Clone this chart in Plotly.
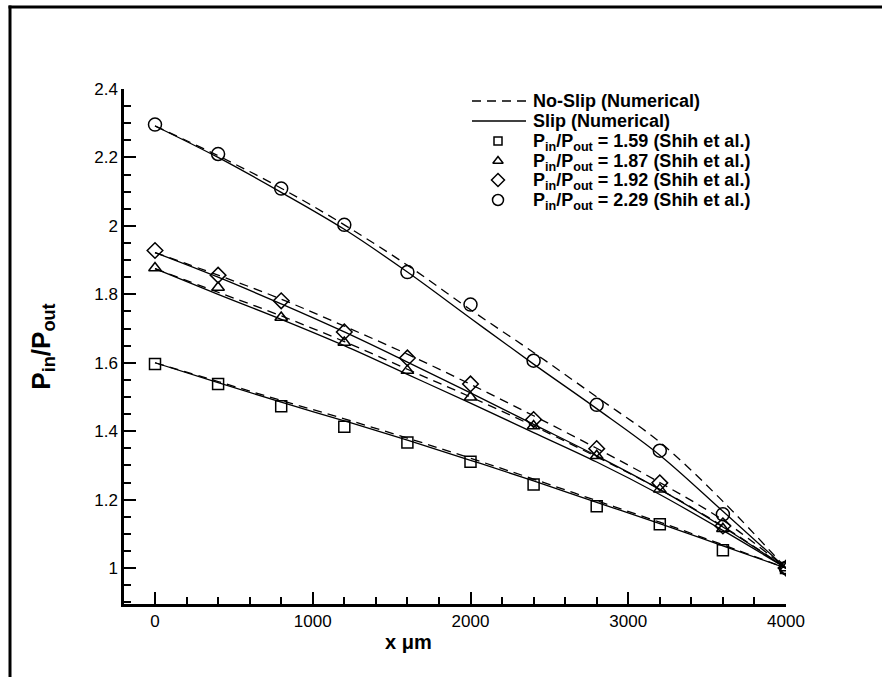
import plotly.graph_objects as go

# ---------------- data ----------------
x_pos = [0, 400, 800, 1200, 1600, 2000, 2400, 2800, 3200, 3600, 4000]

# Experimental data (Shih et al.)
exp_159 = [1.596, 1.538, 1.473, 1.413, 1.367, 1.311, 1.244, 1.181, 1.128, 1.052, 1.0]
exp_187 = [1.877, 1.820, 1.732, 1.659, 1.577, 1.499, 1.415, 1.328, 1.230, 1.115, 1.0]
exp_192 = [1.928, 1.856, 1.781, 1.690, 1.614, 1.538, 1.434, 1.349, 1.249, 1.123, 1.0]
exp_229 = [2.296, 2.210, 2.109, 2.003, 1.865, 1.770, 1.606, 1.477, 1.343, 1.157, 1.0]

# Slip (numerical)
slip_159 = [1.600, 1.542, 1.485, 1.430, 1.374, 1.315, 1.255, 1.192, 1.130, 1.065, 1.0]
slip_187 = [1.875, 1.800, 1.727, 1.650, 1.566, 1.482, 1.396, 1.310, 1.215, 1.110, 1.0]
slip_192 = [1.922, 1.850, 1.772, 1.690, 1.602, 1.512, 1.420, 1.328, 1.230, 1.120, 1.0]
slip_229 = [2.292, 2.200, 2.098, 1.990, 1.865, 1.730, 1.596, 1.466, 1.330, 1.166, 1.0]

# No-slip (numerical)
noslip_159 = [1.600, 1.545, 1.490, 1.436, 1.380, 1.321, 1.260, 1.197, 1.134, 1.068, 1.0]
noslip_187 = [1.875, 1.806, 1.737, 1.662, 1.581, 1.500, 1.415, 1.325, 1.230, 1.122, 1.0]
noslip_192 = [1.922, 1.856, 1.786, 1.707, 1.625, 1.537, 1.445, 1.350, 1.250, 1.140, 1.0]
noslip_229 = [2.292, 2.205, 2.110, 2.003, 1.885, 1.755, 1.630, 1.500, 1.368, 1.195, 1.0]

legend_labels = [
    "No-Slip (Numerical)",
    "Slip (Numerical)",
    "P<sub>in</sub>/P<sub>out</sub> = 1.59 (Shih et al.)",
    "P<sub>in</sub>/P<sub>out</sub> = 1.87 (Shih et al.)",
    "P<sub>in</sub>/P<sub>out</sub> = 1.92 (Shih et al.)",
    "P<sub>in</sub>/P<sub>out</sub> = 2.29 (Shih et al.)",
]
x_ticks = [0, 1000, 2000, 3000, 4000]
y_ticks = [1, 1.2, 1.4, 1.6, 1.8, 2, 2.2, 2.4]
x_title = "x μm"
y_title = "P<sub>in</sub>/P<sub>out</sub>"

FONT = "Liberation Sans, Arial, Helvetica, sans-serif"

# plot-area geometry in pixels (page coordinates)
L, R, T, B = 124, 786, 89, 604
W, H = 882, 677


def fx(px):
    return (px - L) / (R - L)


def fy(py):
    return (B - py) / (B - T)


DASH = "9px,6px"
LW = 1.3

fig = go.Figure()

noslip_all = [noslip_159, noslip_187, noslip_192, noslip_229]
slip_all = [slip_159, slip_187, slip_192, slip_229]

for ys in noslip_all:
    fig.add_trace(go.Scatter(
        x=x_pos, y=ys, mode="lines",
        line=dict(color="black", width=LW, dash=DASH, shape="spline"),
        name="No-Slip (Numerical)", showlegend=False))
for ys in slip_all:
    fig.add_trace(go.Scatter(
        x=x_pos, y=ys, mode="lines",
        line=dict(color="black", width=LW, shape="spline"),
        name="Slip (Numerical)", showlegend=False))

symbols = ["square-open", "triangle-up-open", "diamond-open", "circle-open"]
sizes = [11, 11, 12, 13]
exp_all = [exp_159, exp_187, exp_192, exp_229]
for ys, sym, sz, lab in zip(exp_all, symbols, sizes, legend_labels[2:]):
    fig.add_trace(go.Scatter(
        x=x_pos, y=ys, mode="markers",
        marker=dict(symbol=sym, size=sz, color="black", line=dict(color="black", width=1.5)),
        name=lab, showlegend=False))

# ---------------- hand-placed legend (overlay axes 0..1 on plot area) ----------------
row_y = [101, 121, 141, 161, 180, 200]
line_x0, line_x1, sym_x, text_x = 472, 526, 498, 531

fig.add_trace(go.Scatter(
    x=[fx(line_x0), fx(line_x1)], y=[fy(row_y[0])] * 2, mode="lines",
    line=dict(color="black", width=LW, dash=DASH), xaxis="x2", yaxis="y2",
    showlegend=False, hoverinfo="skip"))
fig.add_trace(go.Scatter(
    x=[fx(line_x0), fx(line_x1)], y=[fy(row_y[1])] * 2, mode="lines",
    line=dict(color="black", width=LW), xaxis="x2", yaxis="y2",
    showlegend=False, hoverinfo="skip"))
leg_sizes = [8, 9, 10, 11]
for k, (sym, sz) in enumerate(zip(symbols, leg_sizes)):
    fig.add_trace(go.Scatter(
        x=[fx(sym_x)], y=[fy(row_y[2 + k])], mode="markers",
        marker=dict(symbol=sym, size=sz, color="black", line=dict(color="black", width=1.5)),
        xaxis="x2", yaxis="y2", showlegend=False, hoverinfo="skip"))

annotations = []
for k, lab in enumerate(legend_labels):
    annotations.append(dict(
        text="<b>" + lab + "</b>", xref="paper", yref="paper",
        x=fx(text_x), y=fy(row_y[k] + (1.5 if k >= 2 else 0)), xanchor="left", yanchor="middle",
        showarrow=False, font=dict(family=FONT, size=18, color="black")))

# x-axis title (placed left of centre as in the reference)
annotations.append(dict(
    text="<b>" + x_title + "</b>", xref="paper", yref="paper",
    x=fx(408), y=fy(642), xanchor="center", yanchor="middle",
    showarrow=False, font=dict(family=FONT, size=20, color="black")))

# outer frame (left and top edges visible)
shapes = [
    dict(type="line", xref="paper", yref="paper", x0=fx(10), x1=fx(10), y0=fy(5.5), y1=fy(700),
         line=dict(color="black", width=3)),
    dict(type="line", xref="paper", yref="paper", x0=fx(8.5), x1=fx(900), y0=fy(7), y1=fy(7),
         line=dict(color="black", width=3)),
]

fig.update_layout(
    width=W, height=H,
    margin=dict(l=L, r=W - R, t=T, b=H - B),
    paper_bgcolor="white", plot_bgcolor="white",
    font=dict(family=FONT, color="black", size=17),
    showlegend=False,
    annotations=annotations,
    shapes=shapes,
    xaxis=dict(
        range=[-196.5, 4000], tickvals=x_ticks, ticktext=[str(v) for v in x_ticks],
        showgrid=False, zeroline=False, showline=True, linecolor="black", linewidth=2.5,
        ticks="inside", ticklen=12, tickwidth=2, tickcolor="black",
        minor=dict(dtick=200, tick0=0, ticks="inside", ticklen=7, tickwidth=2, tickcolor="black", showgrid=False),
        tickfont=dict(family=FONT, size=17, color="black"),
    ),
    yaxis=dict(
        range=[0.895, 2.4], tickvals=y_ticks, ticktext=[("%g" % v) for v in y_ticks],
        showgrid=False, zeroline=False, showline=True, linecolor="black", linewidth=2.5,
        ticks="inside", ticklen=12, tickwidth=2, tickcolor="black",
        minor=dict(dtick=0.05, tick0=0, ticks="inside", ticklen=7, tickwidth=2, tickcolor="black", showgrid=False),
        tickfont=dict(family=FONT, size=17, color="black"),
        title=dict(text="<b>" + y_title + "</b>", font=dict(family=FONT, size=26, color="black"), standoff=37),
    ),
    xaxis2=dict(overlaying="x", anchor="y2", range=[0, 1], visible=False, fixedrange=True),
    yaxis2=dict(overlaying="y", anchor="x2", range=[0, 1], visible=False, fixedrange=True),
)

fig.write_html("out.html", config={"displayModeBar": False},
               post_script="document.body.style.margin='0';")
